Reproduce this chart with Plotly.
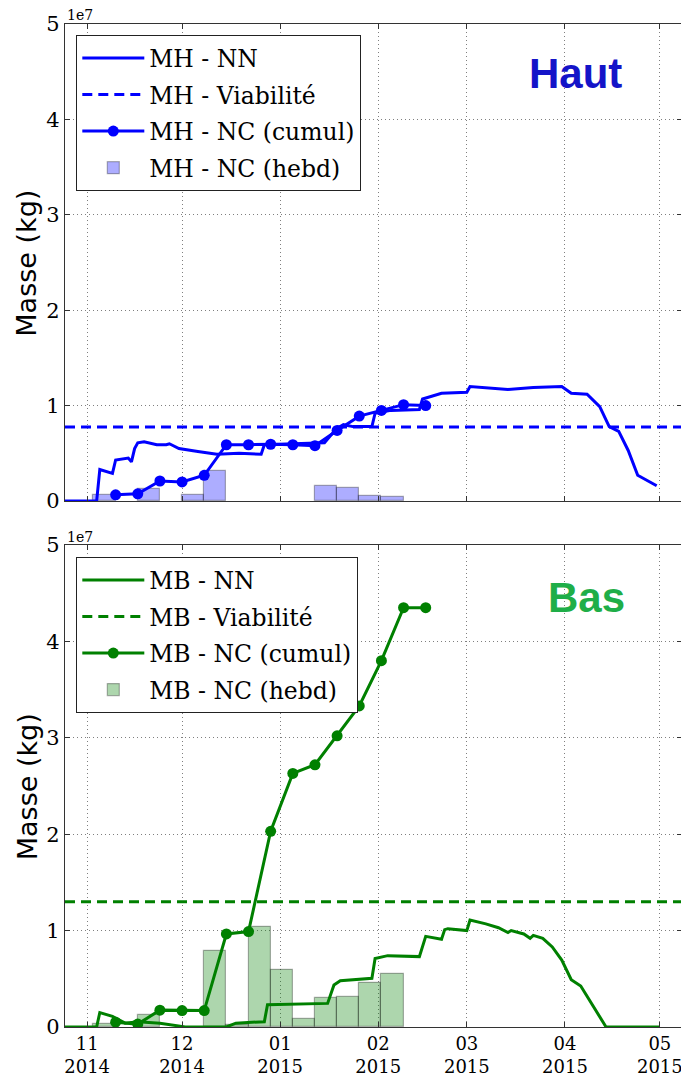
import pandas as pd
import plotly.graph_objects as go

# ---------------- data ----------------
# Top panel : MH (Haut)
mh_nn_dates = ["2014-10-25", "2014-11-04", "2014-11-05", "2014-11-09", "2014-11-10", "2014-11-12",
               "2014-11-14", "2014-11-15", "2014-11-16", "2014-11-17", "2014-11-19", "2014-11-23",
               "2014-11-26", "2014-11-27", "2014-11-30", "2014-12-06", "2014-12-12", "2014-12-19",
               "2014-12-26", "2014-12-27", "2015-01-04", "2015-01-15", "2015-01-17", "2015-01-19",
               "2015-01-21", "2015-01-24", "2015-01-30", "2015-01-31", "2015-02-05", "2015-02-14",
               "2015-02-15", "2015-02-21", "2015-03-01", "2015-03-02", "2015-03-14", "2015-03-22",
               "2015-03-31", "2015-04-03", "2015-04-08", "2015-04-12", "2015-04-15", "2015-04-18",
               "2015-04-21", "2015-04-24", "2015-04-30"]
mh_nn_values = [0, 0, 3.3e6, 2.9e6, 4.3e6, 4.4e6,
                4.5e6, 4.1e6, 5.5e6, 6.1e6, 6.2e6, 5.9e6,
                5.9e6, 6.0e6, 5.5e6, 5.2e6, 4.9e6, 5.0e6,
                4.9e6, 5.9e6, 6.0e6, 6.1e6, 6.9e6, 7.6e6,
                8.0e6, 7.8e6, 7.8e6, 9.2e6, 9.5e6, 9.6e6,
                10.7e6, 11.3e6, 11.4e6, 12.0e6, 11.7e6, 11.9e6,
                12.0e6, 11.3e6, 11.2e6, 9.9e6, 7.8e6, 7.3e6,
                5.3e6, 2.7e6, 1.6e6]
mh_viabilite = 7.75e6

week_dates = ["2014-11-10", "2014-11-17", "2014-11-24", "2014-12-01", "2014-12-08", "2014-12-15",
              "2014-12-22", "2014-12-29", "2015-01-05", "2015-01-12", "2015-01-19", "2015-01-26",
              "2015-02-02", "2015-02-09", "2015-02-16"]
mh_nc_cumul = [0.65e6, 0.75e6, 2.1e6, 2.0e6, 2.7e6, 5.9e6, 5.9e6, 5.95e6, 5.9e6, 5.8e6,
               7.4e6, 8.9e6, 9.5e6, 10.1e6, 10.0e6]

hebd_week_starts = ["2014-11-03", "2014-11-10", "2014-11-17", "2014-11-24", "2014-12-01", "2014-12-08",
                    "2014-12-15", "2014-12-22", "2014-12-29", "2015-01-05", "2015-01-12", "2015-01-19",
                    "2015-01-26", "2015-02-02"]
mh_nc_hebd = [0.6e6, 0, 1.3e6, 0, 0.6e6, 3.1e6, 0, 0, 0, 0, 1.6e6, 1.4e6, 0.5e6, 0.4e6]

# Bottom panel : MB (Bas)
mb_nn_dates = ["2014-10-25", "2014-11-04", "2014-11-05", "2014-11-09", "2014-11-13", "2014-11-17",
               "2014-11-24", "2014-11-29", "2014-12-02", "2014-12-15", "2014-12-18", "2014-12-27",
               "2014-12-28", "2015-01-16", "2015-01-18", "2015-01-20", "2015-01-30", "2015-01-31",
               "2015-02-04", "2015-02-14", "2015-02-16", "2015-02-21", "2015-02-22", "2015-02-23",
               "2015-03-01", "2015-03-02", "2015-03-07", "2015-03-11", "2015-03-14", "2015-03-15",
               "2015-03-19", "2015-03-21", "2015-03-22", "2015-03-25", "2015-03-28", "2015-03-31",
               "2015-04-03", "2015-04-06", "2015-04-10", "2015-04-14", "2015-05-01"]
mb_nn_values = [0, 0, 1.5e6, 1.1e6, 0.4e6, 0.55e6,
                0.4e6, 0.15e6, 0, 0, 0.4e6, 0.55e6,
                2.3e6, 2.45e6, 4.35e6, 4.8e6, 5.05e6, 7.1e6,
                7.4e6, 7.3e6, 9.4e6, 9.1e6, 10.1e6, 10.2e6,
                10.0e6, 11.1e6, 10.7e6, 10.3e6, 9.8e6, 10.0e6,
                9.65e6, 9.2e6, 9.5e6, 9.2e6, 8.3e6, 6.95e6,
                4.9e6, 4.25e6, 2.1e6, 0, 0]
mb_viabilite = 1.3e7
mb_nc_cumul = [0.5e6, 0.3e6, 1.75e6, 1.7e6, 1.7e6, 9.65e6, 9.9e6, 20.3e6, 26.3e6, 27.2e6,
               30.2e6, 33.3e6, 38.0e6, 43.5e6, 43.5e6]
mb_nc_hebd = [0.3e6, 0, 1.3e6, 0, 0, 7.9e6, 0.25e6, 10.4e6, 5.9e6, 0.85e6, 3.0e6, 3.1e6, 4.6e6, 5.5e6]

month_ticks = ["2014-11-01", "2014-12-01", "2015-01-01", "2015-02-01", "2015-03-01", "2015-04-01", "2015-05-01"]
y_tickvals = [0, 1e7, 2e7, 3e7, 4e7, 5e7]
y_ticktext = ["0", "1", "2", "3", "4", "5"]
x_range = ["2014-10-25", "2015-05-08"]

# ---------------- figure ----------------
BLUE = "#0000ff"
GREEN = "#008000"
SERIF = "DejaVu Serif"
WEEK_MS = 7 * 24 * 3600 * 1000

fig = go.Figure()


def add_panel(prefix, nn_d, nn_v, viab, cum, hebd, color, bar_fill, xa, ya, leg):
    starts = pd.to_datetime(pd.Series(hebd_week_starts))
    vals = pd.Series(hebd)
    mask = vals > 0
    centers = starts[mask] + pd.Timedelta(days=3.5)
    fig.add_trace(go.Bar(x=centers, y=vals[mask], width=[WEEK_MS] * int(mask.sum()),
                         marker=dict(color=bar_fill, line=dict(color="rgba(0,0,0,0.3)", width=1.2)),
                         name=prefix + " - NC (hebd)", xaxis=xa, yaxis=ya, legend=leg,
                         legendgroup=prefix + "d", legendrank=4))
    fig.add_trace(go.Scatter(x=nn_d, y=nn_v, mode="lines", line=dict(color=color, width=3),
                             name=prefix + " - NN", xaxis=xa, yaxis=ya, legend=leg,
                             legendgroup=prefix + "a", legendrank=1))
    fig.add_trace(go.Scatter(x=x_range, y=[viab, viab], mode="lines",
                             line=dict(color=color, width=3, dash="10px,6px"),
                             name=prefix + " - Viabilité", xaxis=xa, yaxis=ya, legend=leg,
                             legendgroup=prefix + "b", legendrank=2))
    fig.add_trace(go.Scatter(x=week_dates, y=cum, mode="lines+markers",
                             line=dict(color=color, width=3), marker=dict(color=color, size=11),
                             name=prefix + " - NC (cumul)", xaxis=xa, yaxis=ya, legend=leg,
                             legendgroup=prefix + "c", legendrank=3))


add_panel("MH", mh_nn_dates, mh_nn_values, mh_viabilite, mh_nc_cumul, mh_nc_hebd,
          BLUE, "rgba(0,0,255,0.32)", "x", "y", "legend")
add_panel("MB", mb_nn_dates, mb_nn_values, mb_viabilite, mb_nc_cumul, mb_nc_hebd,
          GREEN, "rgba(0,128,0,0.32)", "x2", "y2", "legend2")

axis_common = dict(showline=True, linecolor="#333", linewidth=1.2, mirror="ticks",
                   ticks="inside", ticklen=5, tickcolor="#333", automargin=False,
                   showgrid=True, gridcolor="rgba(0,0,0,0.5)", griddash="1px,3px", gridwidth=1,
                   zeroline=False)
yfont = dict(family=SERIF, size=21, color="black")
xfont = dict(family=SERIF, size=18, color="black")

leg_common = dict(xanchor="left", yanchor="top", bgcolor="white",
                  bordercolor="#222", borderwidth=1.2, tracegroupgap=3,
                  font=dict(family=SERIF, size=23.5, color="black"), itemwidth=62)

# the page adds an 8px body margin, so the figure is 8px smaller and shifted
fig.update_layout(
    width=681, height=1072,
    margin=dict(l=57, r=7, t=16, b=53, autoexpand=False),
    paper_bgcolor="white", plot_bgcolor="white",
    barmode="overlay", bargap=0,
    showlegend=True,
    xaxis=dict(domain=[0, 1], anchor="y", range=x_range, type="date", tickvals=month_ticks,
               showticklabels=False, tickfont=xfont, **axis_common),
    xaxis2=dict(domain=[0, 1], anchor="y2", range=x_range, type="date", tickvals=month_ticks,
                tickformat="%m<br>%Y", matches="x", tickfont=xfont, **axis_common),
    yaxis=dict(domain=[0.5244, 1], anchor="x", range=[0, 5e7], tickvals=y_tickvals,
               ticktext=y_ticktext, tickfont=yfont, **axis_common),
    yaxis2=dict(domain=[0, 0.4806], anchor="x2", range=[0, 5e7], tickvals=y_tickvals,
                ticktext=y_ticktext, tickfont=yfont, **axis_common),
    legend=dict(x=0.018, y=0.989, **leg_common),
    legend2=dict(x=0.018, y=0.4686, **leg_common),
)

ann = []
for yc in [0.762, 0.240]:
    ann.append(dict(text="Masse (kg)", x=-0.0616, y=yc, xref="paper", yref="paper",
                    xanchor="center", yanchor="middle", textangle=-90, showarrow=False,
                    font=dict(family="DejaVu Sans", size=27, color="black")))
for yc in [1.0085, 0.4885]:
    ann.append(dict(text="1e7", x=0.0, y=yc, xref="paper", yref="paper",
                    xanchor="left", yanchor="middle", showarrow=False,
                    font=dict(family=SERIF, size=14, color="black")))
ann.append(dict(text="<b>Haut</b>", x=0.8266, y=0.951, xref="paper", yref="paper",
                xanchor="center", yanchor="middle", showarrow=False,
                font=dict(family="Liberation Sans", size=42, color="#1414c8")))
ann.append(dict(text="<b>Bas</b>", x=0.846, y=0.4287, xref="paper", yref="paper",
                xanchor="center", yanchor="middle", showarrow=False,
                font=dict(family="Liberation Sans", size=42, color="#1fae48")))
fig.update_layout(annotations=ann)

fig.write_html("out.html")
